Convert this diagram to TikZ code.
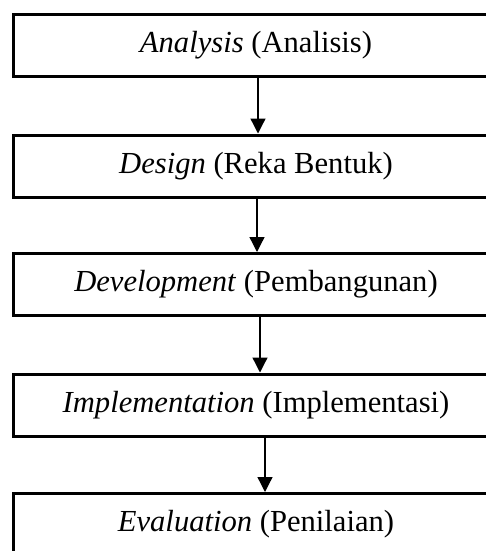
\documentclass[tikz,border=0pt]{standalone}
\usepackage{fontspec}
\setmainfont{Liberation Serif}
\usetikzlibrary{arrows.meta}
\begin{document}
\begin{tikzpicture}[x=1pt, y=-1pt,
        box/.style={rectangle, draw, line width=3pt, minimum width=485pt, minimum height=62pt, align=center, font=\fontsize{30.6}{36}\selectfont},
        arrow/.style={-{Triangle[width=15pt,length=15pt]}, line width=1.3pt}
    ]
        \useasboundingbox (0,0) rectangle (486,551);
        \clip (0,0) rectangle (486,551);
        \node[box] (analysis) at (256,45.5) {\textit{Analysis} (Analisis)};
        \node[box] (design) at (256,166) {\textit{Design} (Reka Bentuk)};
        \node[box] (development) at (256,284.5) {\textit{Development} (Pembangunan)};
        \node[box] (implementation) at (256,405) {\textit{Implementation} (Implementasi)};
        \node[box] (evaluation) at (256,524.5) {\textit{Evaluation} (Penilaian)};
        
        \draw[arrow] ([xshift=2pt]analysis.south) -- ([xshift=2pt]design.north);
        \draw[arrow] ([xshift=1pt]design.south) -- ([xshift=1pt]development.north);
        \draw[arrow] ([xshift=4pt]development.south) -- ([xshift=4pt]implementation.north);
        \draw[arrow] ([xshift=9pt]implementation.south) -- ([xshift=9pt]evaluation.north);
    \end{tikzpicture}
\end{document}
